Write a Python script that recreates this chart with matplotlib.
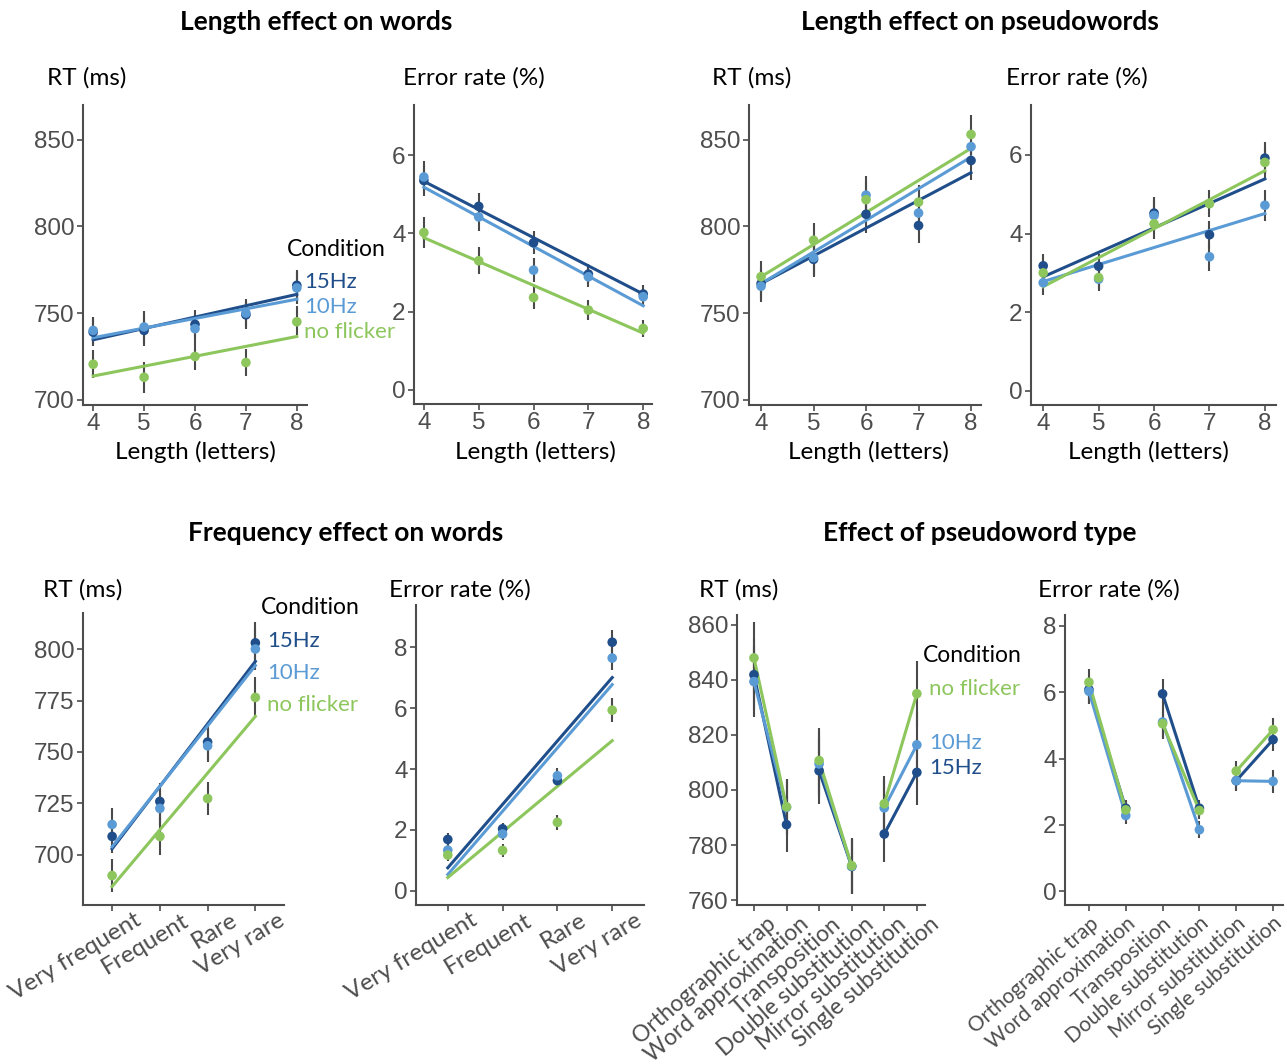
import numpy as np
import matplotlib
matplotlib.use("Agg")
import matplotlib.pyplot as plt
from matplotlib.transforms import ScaledTranslation

# colours for the three flicker conditions
DARK = "#1F4E8A"
LIGHT = "#5B9BD5"
GREEN = "#8CC65C"
BAR = "#4a4a4a"
AXC = "#4d4d4d"

conditions = ["15Hz", "10Hz", "no flicker"]
cond_colors = [DARK, LIGHT, GREEN]

lengths = [4, 5, 6, 7, 8]
freq_cats = ["Very frequent", "Frequent", "Rare", "Very rare"]
type_cats = ["Orthographic trap", "Word approximation", "Transposition",
             "Double substitution", "Mirror substitution", "Single substitution"]

# Length effect on words - RT
rt_words_15 = [739, 740, 743.5, 749, 766]
rt_words_10 = [740, 742, 741, 750, 764.5]
rt_words_nf = [720.5, 713, 725, 721.5, 745]
rt_words_se = [8, 9, 8, 8, 9]
rt_words_fit = [(734.6, 760.8), (735.8, 758), (713.7, 736.5)]

# Length effect on words - error rate
er_words_15 = [5.35, 4.69, 3.76, 2.96, 2.45]
er_words_10 = [5.44, 4.42, 3.06, 2.89, 2.38]
er_words_nf = [4.02, 3.3, 2.36, 2.04, 1.57]
er_words_se = [0.4, 0.35, 0.3, 0.25, 0.22]
er_words_fit = [(5.33, 2.45), (5.18, 2.15), (3.89, 1.45)]

# Length effect on pseudowords - RT
rt_pseudo_15 = [767, 781, 807, 800.5, 838]
rt_pseudo_10 = [765.5, 782, 818, 807.7, 846]
rt_pseudo_nf = [771, 792, 815.4, 814, 853]
rt_pseudo_se = [9, 10, 11, 10, 11]
rt_pseudo_fit = [(767, 831), (767, 840), (771, 845)]

# Length effect on pseudowords - error rate
er_pseudo_15 = [3.18, 3.17, 4.52, 3.97, 5.92]
er_pseudo_10 = [2.75, 2.84, 4.46, 3.41, 4.72]
er_pseudo_nf = [3.0, 2.88, 4.25, 4.76, 5.81]
er_pseudo_se = [0.3, 0.3, 0.4, 0.35, 0.4]
er_pseudo_fit = [(2.9, 5.39), (2.78, 4.51), (2.65, 5.6)]

# Frequency effect on words - RT
rt_freq_15 = [709, 726, 754.8, 803]
rt_freq_10 = [714.8, 722.6, 753, 800]
rt_freq_nf = [690, 709, 727.4, 776.5]
rt_freq_se = [8, 9, 8, 10]
rt_freq_fit = [(703, 794), (704, 792), (684.7, 767.3)]

# Frequency effect on words - error rate
er_freq_15 = [1.69, 2.04, 3.62, 8.16]
er_freq_10 = [1.34, 1.87, 3.78, 7.64]
er_freq_nf = [1.18, 1.33, 2.25, 5.93]
er_freq_se = [0.2, 0.2, 0.25, 0.4]
er_freq_fit = [(0.76, 7.0), (0.54, 6.77), (0.44, 4.93)]

# Effect of pseudoword type - RT
rt_type_15 = [841.9, 787.4, 807, 772.2, 784, 806.4]
rt_type_10 = [839.4, 793.7, 809.5, 772.3, 793.5, 816.4]
rt_type_nf = [848, 793.9, 810.7, 772.5, 795, 835]
rt_type_se = [13, 10, 12, 10, 10, 12]

# Effect of pseudoword type - error rate
er_type_15 = [6.08, 2.5, 5.95, 2.5, 3.33, 4.57]
er_type_10 = [6.03, 2.28, 5.1, 1.85, 3.33, 3.31]
er_type_nf = [6.3, 2.45, 5.05, 2.43, 3.62, 4.87]
er_type_se = [0.4, 0.25, 0.45, 0.25, 0.3, 0.35]

W, H = 1287, 1064
plt.rcParams["font.family"] = ["Liberation Sans", "DejaVu Sans"]
LAB = ["Lato", "DejaVu Sans"]
fig = plt.figure(figsize=(W / 100, H / 100), dpi=100)


def make_ax(left, right, top, bottom, xlim, ylim, yticks):
    ax = fig.add_axes([left / W, 1 - bottom / H, (right - left) / W, (bottom - top) / H])
    ax.set_xlim(*xlim)
    ax.set_ylim(*ylim)
    ax.set_yticks(yticks)
    for s in ["top", "right"]:
        ax.spines[s].set_visible(False)
    for s in ["left", "bottom"]:
        ax.spines[s].set_color(AXC)
        ax.spines[s].set_linewidth(1.5)
    ax.tick_params(colors=AXC, labelsize=17.5, width=1.2, length=4,
                   labelcolor=AXC, pad=2)
    ax.patch.set_alpha(0)
    return ax


def points(ax, x, series, se):
    for vals in series:
        ax.errorbar(x, vals, yerr=se, fmt="none", ecolor=BAR, elinewidth=1.5, zorder=2)
    for vals, c in zip(series, cond_colors):
        ax.scatter(x, vals, s=48, color=c, zorder=4, edgecolors="none")


def fits(ax, x0, x1, fit):
    for (a, b), c in zip(fit, cond_colors):
        ax.plot([x0, x1], [a, b], color=c, lw=2.2, zorder=3)


def cat_labels(ax, labels, angle, size, dx, dy):
    ax.set_xticklabels(labels, rotation=angle, ha="right", va="top",
                       rotation_mode="anchor", family=LAB, fontsize=size)
    off = ScaledTranslation(dx / 100, dy / 100, fig.dpi_scale_trans)
    for t in ax.get_xticklabels():
        t.set_transform(t.get_transform() + off)


def legend(ax_x, ys, order, x_off=0):
    fig.text(ax_x / W, 1 - ys[0] / H, "Condition", fontsize=16.5, family=LAB,
             color="black", va="center")
    for name, y in zip(order, ys[1:]):
        c = cond_colors[conditions.index(name)]
        fig.text((ax_x + x_off) / W, 1 - y / H, name, fontsize=16, family=LAB,
                 color=c, va="center")


def ftext(x, y, s, size=16, **kw):
    fig.text(x / W, 1 - y / H, s, fontsize=size, family=LAB, va="center", **kw)


# --- top row ---
ax1 = make_ax(83, 307, 105, 405, (3.8, 8.2), (697, 870), [700, 750, 800, 850])
ax1.set_xticks(lengths)
points(ax1, lengths, [rt_words_15, rt_words_10, rt_words_nf], rt_words_se)
fits(ax1, 4, 8, rt_words_fit)

ax2 = make_ax(414, 652, 105, 404, (3.82, 8.16), (-0.36, 7.28), [0, 2, 4, 6])
ax2.set_xticks(lengths)
points(ax2, lengths, [er_words_15, er_words_10, er_words_nf], er_words_se)
fits(ax2, 4, 8, er_words_fit)

ax3 = make_ax(749, 981, 105, 405, (3.77, 8.19), (697, 870), [700, 750, 800, 850])
ax3.set_xticks(lengths)
points(ax3, lengths, [rt_pseudo_15, rt_pseudo_10, rt_pseudo_nf], rt_pseudo_se)
fits(ax3, 4, 8, rt_pseudo_fit)

ax4 = make_ax(1031, 1276, 105, 405, (3.78, 8.2), (-0.36, 7.27), [0, 2, 4, 6])
ax4.set_xticks(lengths)
points(ax4, lengths, [er_pseudo_15, er_pseudo_10, er_pseudo_nf], er_pseudo_se)
fits(ax4, 4, 8, er_pseudo_fit)

# --- bottom row ---
fx = np.arange(len(freq_cats))
ax5 = make_ax(83, 284, 613, 905, (-0.61, 3.6), (675.7, 817.5), [700, 725, 750, 775, 800])
ax5.set_xticks(fx)
cat_labels(ax5, freq_cats, 31, 17.5, 22, 4)
points(ax5, fx, [rt_freq_15, rt_freq_10, rt_freq_nf], rt_freq_se)
fits(ax5, 0, 3, rt_freq_fit)

ax6 = make_ax(416, 644, 605, 905, (-0.58, 3.58), (-0.46, 9.38), [0, 2, 4, 6, 8])
ax6.set_xticks(fx)
cat_labels(ax6, freq_cats, 31, 17.5, 22, 4)
points(ax6, fx, [er_freq_15, er_freq_10, er_freq_nf], er_freq_se)
fits(ax6, 0, 3, er_freq_fit)

tx = np.arange(len(type_cats))
pairs = [(0, 2), (2, 4), (4, 6)]
ax7 = make_ax(737, 925, 615, 905, (-0.52, 5.25), (758.2, 863.6), [760, 780, 800, 820, 840, 860])
ax7.set_xticks(tx)
cat_labels(ax7, type_cats, 41, 16.5, 12, 0)
ser7 = [rt_type_15, rt_type_10, rt_type_nf]
points(ax7, tx, ser7, rt_type_se)
for vals, c in zip(ser7, cond_colors):
    for a, b in pairs:
        ax7.plot(tx[a:b], vals[a:b], color=c, lw=2.2, zorder=3)

ax8 = make_ax(1065, 1283, 615, 905, (-0.65, 5.27), (-0.42, 8.33), [0, 2, 4, 6, 8])
ax8.set_xticks(tx)
cat_labels(ax8, type_cats, 41, 15, 0, 0)
ser8 = [er_type_15, er_type_10, er_type_nf]
points(ax8, tx, ser8, er_type_se)
for vals, c in zip(ser8, cond_colors):
    for a, b in pairs:
        ax8.plot(tx[a:b], vals[a:b], color=c, lw=2.2, zorder=3)

# titles
ftext(316, 22, "Length effect on words", 19, ha="center", weight="bold")
ftext(980, 22, "Length effect on pseudowords", 19, ha="center", weight="bold")
ftext(346, 533, "Frequency effect on words", 19, ha="center", weight="bold")
ftext(980, 533, "Effect of pseudoword type", 19, ha="center", weight="bold")

# y labels
for x, y, s in [(47, 78, "RT (ms)"), (403, 78, "Error rate (%)"),
                (712, 78, "RT (ms)"), (1006, 78, "Error rate (%)"),
                (43, 590, "RT (ms)"), (389, 590, "Error rate (%)"),
                (699, 590, "RT (ms)"), (1038, 590, "Error rate (%)")]:
    ftext(x, y, s, 17.5, ha="left")

# x labels
for x in [195, 535, 868, 1148]:
    ftext(x, 452, "Length (letters)", 17.5, ha="center")

# condition legends
legend(287, [250, 282, 307, 332], ["15Hz", "10Hz", "no flicker"], x_off=17)
legend(261, [607, 641, 673, 705], ["15Hz", "10Hz", "no flicker"], x_off=6)
legend(923, [655, 689, 743, 768], ["no flicker", "10Hz", "15Hz"], x_off=6)

fig.savefig("out.png", dpi=100)
